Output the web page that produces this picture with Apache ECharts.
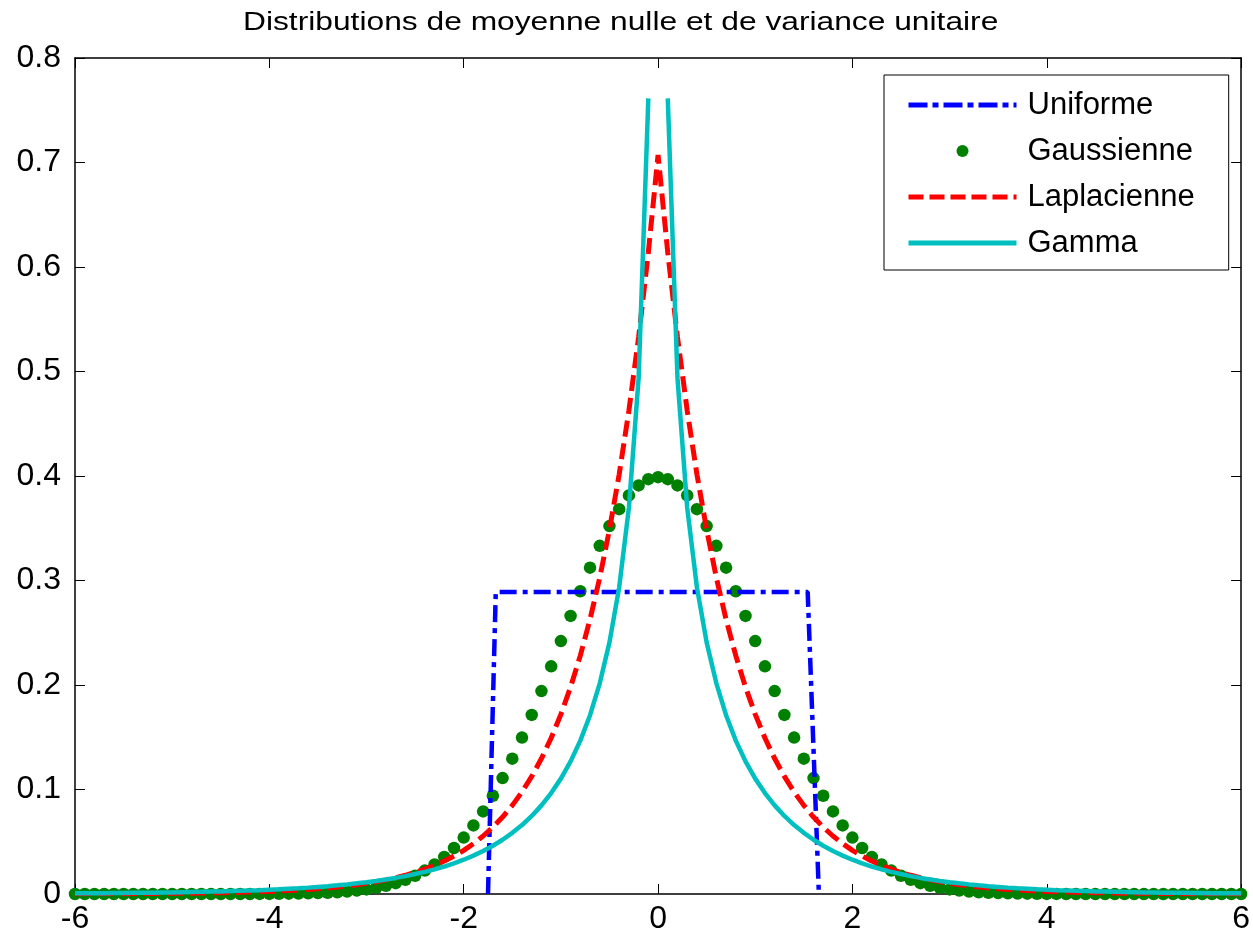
<!DOCTYPE html>
<html>
<head>
<meta charset="utf-8">
<script src="https://cdn.jsdelivr.net/npm/echarts@6/dist/echarts.min.js"></script>
<style>
html, body { margin: 0; padding: 0; background: #fff; }
#main { width: 1253px; height: 937px; }
</style>
</head>
<body>
<div id="main"></div>
<script>
// abscisses communes (pas de 0.1)
var xs = [-6.0,-5.9,-5.8,-5.7,-5.6,-5.5,-5.4,-5.3,-5.2,-5.1,
  -5.0,-4.9,-4.8,-4.7,-4.6,-4.5,-4.4,-4.3,-4.2,-4.1,
  -4.0,-3.9,-3.8,-3.7,-3.6,-3.5,-3.4,-3.3,-3.2,-3.1,
  -3.0,-2.9,-2.8,-2.7,-2.6,-2.5,-2.4,-2.3,-2.2,-2.1,
  -2.0,-1.9,-1.8,-1.7,-1.6,-1.5,-1.4,-1.3,-1.2,-1.1,
  -1.0,-0.9,-0.8,-0.7,-0.6,-0.5,-0.4,-0.3,-0.2,-0.1,
  0,
  0.1,0.2,0.3,0.4,0.5,0.6,0.7,0.8,0.9,1.0,
  1.1,1.2,1.3,1.4,1.5,1.6,1.7,1.8,1.9,2.0,
  2.1,2.2,2.3,2.4,2.5,2.6,2.7,2.8,2.9,3.0,
  3.1,3.2,3.3,3.4,3.5,3.6,3.7,3.8,3.9,4.0,
  4.1,4.2,4.3,4.4,4.5,4.6,4.7,4.8,4.9,5.0,
  5.1,5.2,5.3,5.4,5.5,5.6,5.7,5.8,5.9,6.0];

var gauss = [0,0,0,0,0,0,0,0,0,0,
  0,0,0,0,0,0,0,0,0,0.0001,
  0.0001,0.0002,0.0003,0.0004,0.0006,0.0009,0.0012,0.0017,0.0024,0.0033,
  0.0044,0.0060,0.0079,0.0104,0.0136,0.0175,0.0224,0.0283,0.0355,0.0440,
  0.0540,0.0656,0.0790,0.0940,0.1109,0.1295,0.1497,0.1714,0.1942,0.2179,
  0.2420,0.2661,0.2897,0.3123,0.3332,0.3521,0.3683,0.3814,0.3910,0.3970,
  0.3989,
  0.3970,0.3910,0.3814,0.3683,0.3521,0.3332,0.3123,0.2897,0.2661,0.2420,
  0.2179,0.1942,0.1714,0.1497,0.1295,0.1109,0.0940,0.0790,0.0656,0.0540,
  0.0440,0.0355,0.0283,0.0224,0.0175,0.0136,0.0104,0.0079,0.0060,0.0044,
  0.0033,0.0024,0.0017,0.0012,0.0009,0.0006,0.0004,0.0003,0.0002,0.0001,
  0.0001,0,0,0,0,0,0,0,0,0,
  0,0,0,0,0,0,0,0,0,0];

var laplace = [0.0001,0.0002,0.0002,0.0002,0.0003,0.0003,0.0003,0.0004,0.0005,0.0005,
  0.0006,0.0007,0.0008,0.0009,0.0011,0.0012,0.0014,0.0016,0.0019,0.0022,
  0.0025,0.0029,0.0033,0.0038,0.0044,0.0050,0.0058,0.0067,0.0077,0.0089,
  0.0102,0.0117,0.0135,0.0156,0.0179,0.0206,0.0238,0.0274,0.0315,0.0363,
  0.0418,0.0482,0.0555,0.0639,0.0736,0.0848,0.0977,0.1125,0.1296,0.1493,
  0.1719,0.1980,0.2281,0.2628,0.3027,0.3487,0.4016,0.4626,0.5329,0.6139,
  0.7071,
  0.6139,0.5329,0.4626,0.4016,0.3487,0.3027,0.2628,0.2281,0.1980,0.1719,
  0.1493,0.1296,0.1125,0.0977,0.0848,0.0736,0.0639,0.0555,0.0482,0.0418,
  0.0363,0.0315,0.0274,0.0238,0.0206,0.0179,0.0156,0.0135,0.0117,0.0102,
  0.0089,0.0077,0.0067,0.0058,0.0050,0.0044,0.0038,0.0033,0.0029,0.0025,
  0.0022,0.0019,0.0016,0.0014,0.0012,0.0011,0.0009,0.0008,0.0007,0.0006,
  0.0005,0.0005,0.0004,0.0003,0.0003,0.0003,0.0002,0.0002,0.0002,0.0001];

// densite infinie en 0 : pas de point
var gamma = [0.0006,0.0007,0.0007,0.0008,0.0009,0.0010,0.0011,0.0012,0.0013,0.0014,
  0.0015,0.0017,0.0019,0.0021,0.0023,0.0025,0.0028,0.0031,0.0034,0.0037,
  0.0041,0.0045,0.0050,0.0055,0.0061,0.0068,0.0075,0.0083,0.0092,0.0102,
  0.0113,0.0125,0.0139,0.0154,0.0171,0.0191,0.0212,0.0236,0.0263,0.0294,
  0.0328,0.0367,0.0412,0.0462,0.0519,0.0585,0.0660,0.0747,0.0848,0.0966,
  0.1104,0.1269,0.1468,0.1711,0.2016,0.2408,0.2935,0.3696,0.4936,0.7613,
  null,
  0.7613,0.4936,0.3696,0.2935,0.2408,0.2016,0.1711,0.1468,0.1269,0.1104,
  0.0966,0.0848,0.0747,0.0660,0.0585,0.0519,0.0462,0.0412,0.0367,0.0328,
  0.0294,0.0263,0.0236,0.0212,0.0191,0.0171,0.0154,0.0139,0.0125,0.0113,
  0.0102,0.0092,0.0083,0.0075,0.0068,0.0061,0.0055,0.0050,0.0045,0.0041,
  0.0037,0.0034,0.0031,0.0028,0.0025,0.0023,0.0021,0.0019,0.0017,0.0015,
  0.0014,0.0013,0.0012,0.0011,0.0010,0.0009,0.0008,0.0007,0.0007,0.0006];

var uniformX = [-1.75, -1.67, 1.54, 1.655];
var uniformY = [0, 0.289, 0.289, 0];

var names = ['Uniforme', 'Gaussienne', 'Laplacienne', 'Gamma'];

function pairs(x, y) {
    var out = [];
    for (var i = 0; i < x.length; i++) out.push([x[i], y[i]]);
    return out;
}

var chart = echarts.init(document.getElementById('main'));
var font = 'Liberation Sans, Arial, Helvetica, sans-serif';

function xAxisOpt(pos, labels) {
    return {
        type: 'value', position: pos, min: -6, max: 6, interval: 2,
        axisLine: { show: true, onZero: false, lineStyle: { color: '#000', width: 1.5 } },
        axisTick: { show: true, inside: true, length: 10, lineStyle: { color: '#000', width: 1 } },
        axisLabel: { show: labels, color: '#000', fontSize: 32, fontFamily: font, margin: 9 },
        splitLine: { show: false }
    };
}
function yAxisOpt(pos, labels) {
    return {
        type: 'value', position: pos, min: 0, max: 0.8, interval: 0.1,
        axisLine: { show: true, onZero: false, lineStyle: { color: '#000', width: 1.5 } },
        axisTick: { show: true, inside: true, length: 10, lineStyle: { color: '#000', width: 1 } },
        axisLabel: { show: labels, color: '#000', fontSize: 32, fontFamily: font, margin: 14 },
        splitLine: { show: false }
    };
}

var option = {
    backgroundColor: '#fff',
    animation: false,
    graphic: [{
        type: 'text',
        x: 243, y: 10, scaleX: 1.245,
        style: {
            text: 'Distributions de moyenne nulle et de variance unitaire',
            font: '25.5px ' + font,
            fill: '#000',
            textVerticalAlign: 'top'
        }
    }],
    grid: { left: 75, right: 10, top: 58, bottom: 43 },
    legend: {
        orient: 'vertical',
        left: 884, top: 75,
        padding: [14, 34, 11, 22],
        itemWidth: 108, itemHeight: 12, itemGap: 14,
        borderColor: '#000', borderWidth: 1, backgroundColor: '#fff',
        textStyle: { fontSize: 31, color: '#000', fontFamily: font, lineHeight: 32, padding: [0, 0, 0, 6] },
        data: [
            { name: names[0], itemStyle: { opacity: 0 }, lineStyle: { width: 5, type: [19, 5, 6, 5] } },
            { name: names[1] },
            { name: names[2], itemStyle: { opacity: 0 }, lineStyle: { width: 5, type: [15, 6] } },
            { name: names[3], itemStyle: { opacity: 0 }, lineStyle: { width: 5 } }
        ]
    },
    xAxis: [xAxisOpt('bottom', true), xAxisOpt('top', false)],
    yAxis: [yAxisOpt('left', true), yAxisOpt('right', false)],
    series: [
        {
            name: names[0], type: 'line', symbol: 'none',
            lineStyle: { color: '#0000ff', width: 4.5, type: [17, 6, 5, 6] },
            itemStyle: { color: '#0000ff' },
            data: pairs(uniformX, uniformY)
        },
        {
            name: names[1], type: 'scatter', symbol: 'circle', symbolSize: 12.5,
            itemStyle: { color: '#008000', opacity: 1 },
            data: pairs(xs, gauss)
        },
        {
            name: names[2], type: 'line', symbol: 'none',
            lineStyle: { color: '#ff0000', width: 5, type: [16, 7] },
            itemStyle: { color: '#ff0000' },
            data: pairs(xs, laplace)
        },
        {
            name: names[3], type: 'line', symbol: 'none', connectNulls: false,
            lineStyle: { color: '#00bfbf', width: 4.5 },
            itemStyle: { color: '#00bfbf' },
            data: pairs(xs, gamma)
        }
    ]
};

chart.setOption(option);
</script>
</body>
</html>
